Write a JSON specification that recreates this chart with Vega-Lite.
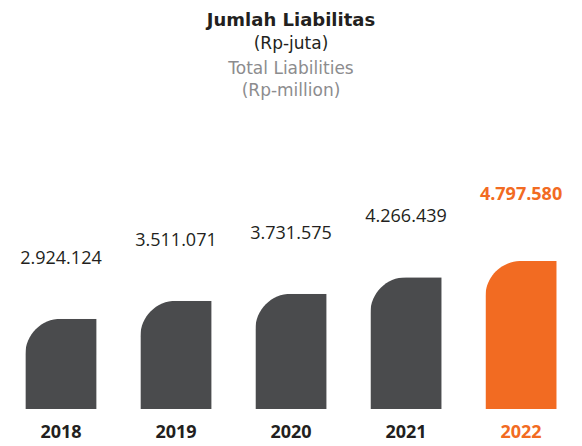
{
  "$schema": "https://vega.github.io/schema/vega-lite/v6.json",
  "padding": {"top": 12, "left": 0, "right": 0, "bottom": 0},
  "background": "white",
  "config": {
    "view": {"stroke": null},
    "font": "Open Sans",
    "concat": {"spacing": 0},
    "locale": {"number": {"decimal": ",", "thousands": ".", "grouping": [3], "currency": ["Rp", ""]}}
  },
  "title": {
    "text": "Jumlah Liabilitas",
    "subtitle": "(Rp-juta)",
    "font": "DejaVu Sans",
    "subtitleFont": "DejaVu Sans",
    "fontSize": 18,
    "fontWeight": "bold",
    "color": "#231f20",
    "subtitleFontSize": 17,
    "subtitleColor": "#231f20",
    "subtitlePadding": 6,
    "anchor": "middle",
    "offset": 8
  },
  "vconcat": [
    {
      "width": 582,
      "height": 301,
      "title": {
        "text": "Total Liabilities",
        "subtitle": "(Rp-million)",
        "font": "DejaVu Sans",
        "subtitleFont": "DejaVu Sans",
        "fontSize": 17,
        "fontWeight": "normal",
        "color": "#8c8c8e",
        "subtitleFontSize": 17,
        "subtitleColor": "#8c8c8e",
        "subtitlePadding": 5,
        "anchor": "middle",
        "offset": 8
      },
      "data": {
        "values": [
          {"year": "2018", "value": 2924124},
          {"year": "2019", "value": 3511071},
          {"year": "2020", "value": 3731575},
          {"year": "2021", "value": 4266439},
          {"year": "2022", "value": 4797580}
        ]
      },
      "encoding": {
        "x": {
          "field": "year",
          "type": "nominal",
          "scale": {"paddingInner": 0.38, "paddingOuter": 0.22},
          "axis": {
            "title": null,
            "domain": false,
            "ticks": false,
            "labelAngle": 0,
            "labelFontSize": 18,
            "labelFontWeight": "bold",
            "labelPadding": 14,
            "labelColor": {"condition": {"test": "datum.value == '2022'", "value": "#f26b22"}, "value": "#231f20"}
          }
        },
        "y": {
          "field": "value",
          "type": "quantitative",
          "scale": {"domain": [0, 9755000]},
          "axis": null
        }
      },
      "layer": [
        {
          "mark": {"type": "bar", "cornerRadiusTopLeft": 36},
          "encoding": {
            "color": {"condition": {"test": "datum.year == '2022'", "value": "#f26b22"}, "value": "#4a4b4d"}
          }
        },
        {
          "transform": [{"filter": "datum.year != '2022'"}],
          "mark": {"type": "text", "fontSize": 18, "baseline": "middle", "dy": -60, "color": "#231f20"},
          "encoding": {"text": {"field": "value", "type": "quantitative", "format": ",d"}}
        },
        {
          "transform": [{"filter": "datum.year == '2022'"}],
          "mark": {"type": "text", "fontSize": 18, "fontWeight": "bold", "baseline": "middle", "dy": -66, "color": "#f26b22"},
          "encoding": {"text": {"field": "value", "type": "quantitative", "format": ",d"}}
        }
      ]
    }
  ]
}
